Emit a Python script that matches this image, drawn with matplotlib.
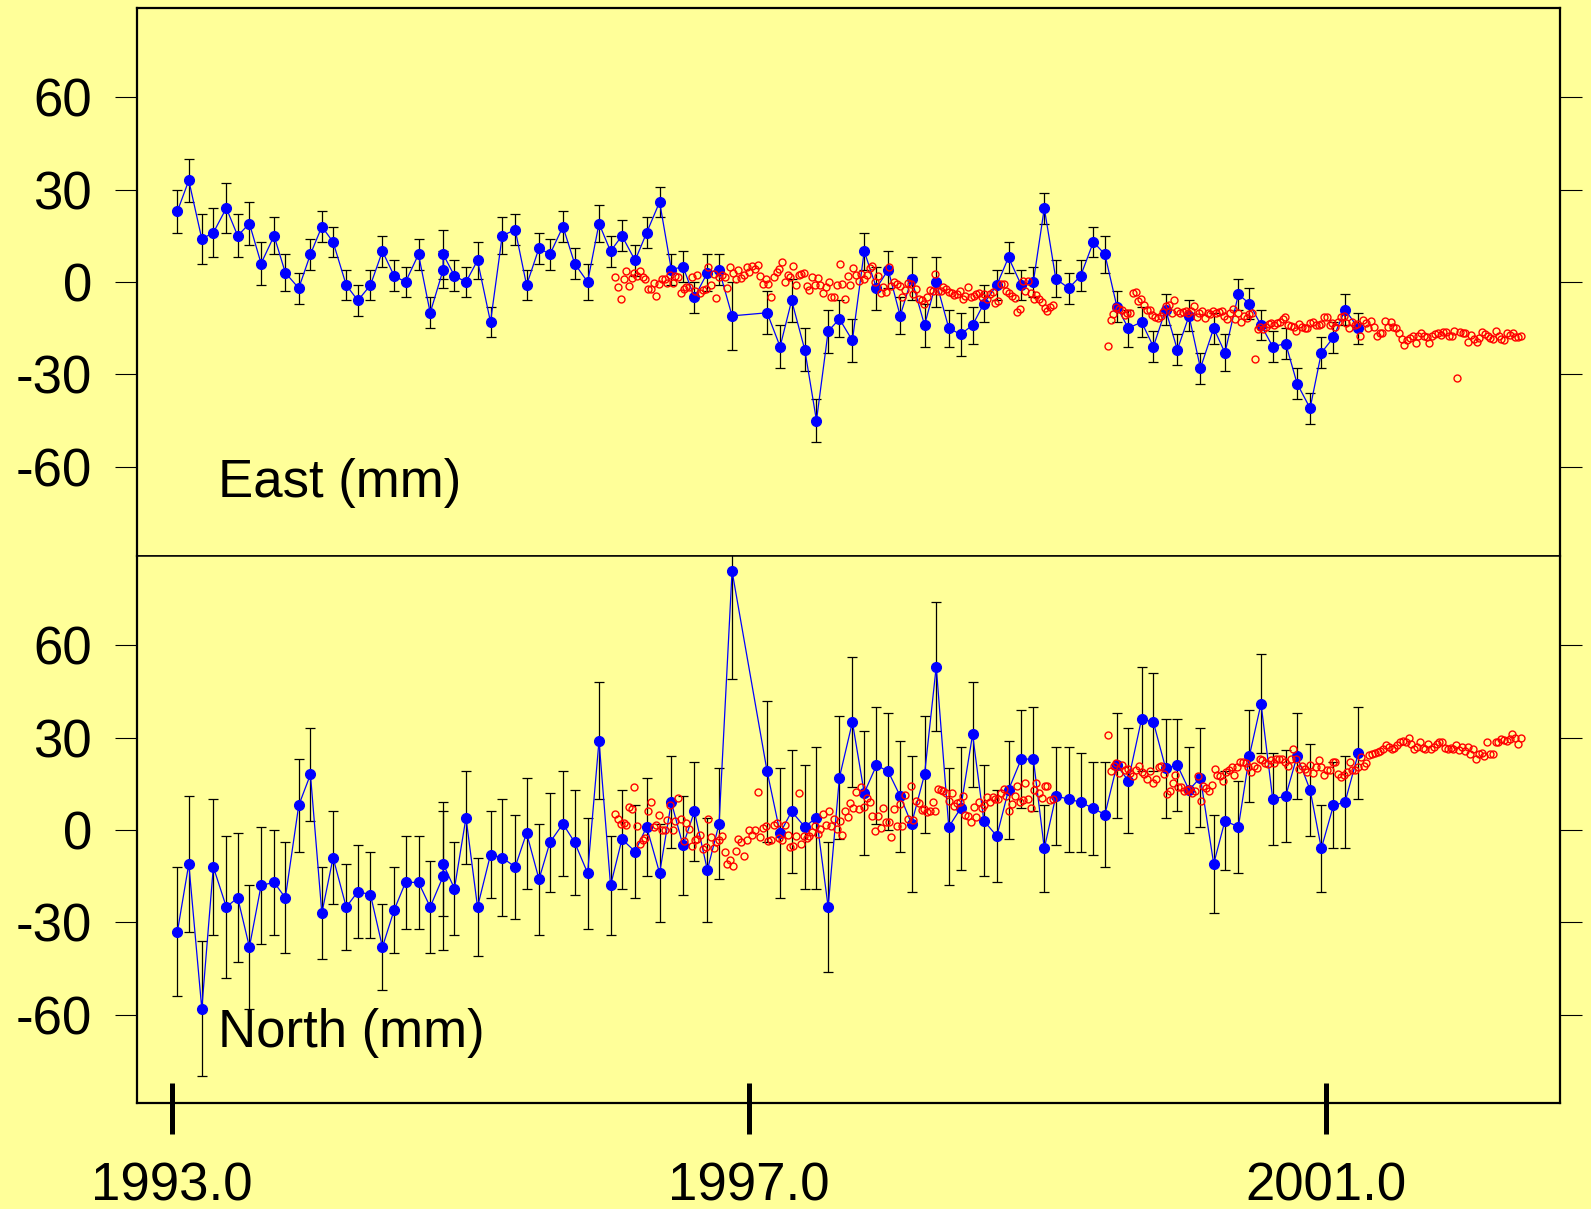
import numpy as np
import matplotlib
matplotlib.use("Agg")
import matplotlib.pyplot as plt

plt.rcParams['font.family'] = ['Liberation Sans', 'DejaVu Sans']

# ---------------- data ----------------
# monthly campaign epochs (decimal years)
epochs = [1993.040, 1993.119, 1993.209, 1993.289, 1993.379, 1993.458, 1993.539, 1993.620,
          1993.710, 1993.788, 1993.881, 1993.962, 1994.041, 1994.119, 1994.210, 1994.291,
          1994.378, 1994.461, 1994.542, 1994.621, 1994.711, 1994.792, 1994.882, 1994.882,
          1994.960, 1995.040, 1995.120, 1995.210, 1995.291, 1995.381, 1995.460, 1995.546,
          1995.622, 1995.712, 1995.793, 1995.883, 1995.962, 1996.042,
          1996.121, 1996.212, 1996.292, 1996.382, 1996.463, 1996.544, 1996.623, 1996.713,
          1996.794, 1996.884,
          1997.127, 1997.217, 1997.297, 1997.388, 1997.469, 1997.550, 1997.628, 1997.718,
          1997.800, 1997.885, 1997.966, 1998.049, 1998.128, 1998.218, 1998.299, 1998.386,
          1998.468, 1998.551, 1998.629, 1998.719, 1998.800, 1998.888, 1998.972, 1999.048,
          1999.128,
          1999.218, 1999.300, 1999.388, 1999.468, 1999.551, 1999.630, 1999.722, 1999.804,
          1999.889, 1999.970, 2000.051, 2000.130, 2000.222, 2000.300, 2000.393, 2000.469,
          2000.550, 2000.631, 2000.721, 2000.800, 2000.890, 2000.968, 2001.052, 2001.132,
          2001.225]

east = [23, 33, 14, 16, 24, 15, 19, 6, 15, 3, -2, 9, 18, 13, -1, -6, -1, 10, 2, 0,
        9, -10, 4, 9, 2, 0, 7, -13, 15, 17, -1, 11, 9, 18, 6, 0, 19, 10,
        15, 7, 16, 26, 4, 5, -5, 3, 4, -11,
        -10, -21, -6, -22, -45, -16, -12, -19, 10, -2, 4, -11, 1, -14, 0, -15, -17, -14,
        -7, -1, 8, -1, 0, 24, 1,
        -2, 2, 13, 9, -8, -15, -13, -21, -9, -22, -11, -28, -15, -23, -4, -7, -14, -21,
        -20, -33, -41, -23, -18, -9, -15]
east_err = [7, 7, 8, 8, 8, 7, 7, 7, 6, 6, 5, 5, 5, 5, 5, 5, 5, 5, 5, 5,
            5, 5, 6, 8, 5, 5, 6, 5, 6, 5, 5, 5, 5, 5, 5, 6, 6, 5,
            5, 5, 5, 5, 5, 5, 5, 6, 5, 11,
            7, 7, 7, 7, 7, 7, 6, 7, 6, 7, 6, 6, 7, 7, 8, 6, 7, 6, 6, 5, 5, 5, 5, 5, 6,
            5, 5, 5, 6, 5, 6, 5, 5, 5, 5, 5, 5, 5, 6, 5, 5, 5, 5, 5, 5, 5, 5, 5, 5, 5]

north = [-33, -11, -58, -12, -25, -22, -38, -18, -17, -22, 8, 18, -27, -9, -25, -20,
         -21, -38, -26, -17, -17, -25, -15, -11, -19, 4, -25, -8, -9, -12, -1, -16,
         -4, 2, -4, -14, 29, -18,
         -3, -7, 1, -14, 9, -5, 6, -13, 2, 84,
         19, -1, 6, 1, 4, -25, 17, 35, 12, 21, 19, 11, 2, 18, 53, 1, 7, 31, 3, -2,
         13, 23, 23, -6, 11,
         10, 9, 7, 5, 21, 16, 36, 35, 20, 21, 13, 17, -11, 3, 1, 24, 41, 10, 11, 24,
         13, -6, 8, 9, 25]
north_err = [21, 22, 22, 22, 23, 21, 20, 19, 17, 18, 15, 15, 15, 15, 14, 15, 14, 14,
             14, 15, 15, 15, 24, 17, 15, 15, 16, 14, 19, 17, 18, 18, 16, 17, 17, 18,
             19, 16,
             16, 15, 16, 16, 15, 16, 16, 17, 18, 35,
             23, 21, 20, 20, 23, 21, 20, 21, 20, 19, 19, 18, 22, 19, 21, 19, 20, 17,
             18, 15, 16, 16, 17, 14, 16,
             17, 16, 15, 17, 17, 17, 17, 16, 16, 15, 14, 16, 16, 16, 15, 15, 16, 15,
             15, 14, 15, 14, 14, 15, 15]

# continuous-station weekly solutions: two spans (start, end) in decimal years
red_span1 = (1996.075, 1999.107)
red_span2 = (1999.489, 2002.351)

east_red_1 = [1.7, -1.5, -5.6, 0.9, 3.6, -1.3, 1.2, 2.8, 1.9, 3.7, 1.5, 0.9, -2.4, -2.4,
              -0.4, -4.5, -0.8, 1.0, 0.9, -0.4, 2.3, -0.2, 1.9, 1.7, -3.5, -2.3, -1.7,
              -1.6, 1.7, -2.8, 2.4, -3.5, -2.5, -2.2, 5.0, -1.0, 2.6, -5.1, 1.5, 2.3,
              1.7, -1.9, 4.8, 3.0, 1.0, 3.9, 1.2, 2.3, 5.0, 3.4, 5.3, 4.2, 5.4, 1.9,
              -0.8, 0.9, -0.8, -4.9, 1.5, 3.4, 4.1, 6.5, -0.1, 2.3, 1.6, 5.2, -1.0, 2.3,
              2.6, 2.9, -1.2, -2.7, 1.6, -1.0, 1.4, -1.1, -3.6, -1.5, 0.1, -4.8, -4.8,
              -1.0, 5.7, -0.6, -5.5, 1.9, -1.0, 4.4, 2.3, 0.2, 2.6, 0.9, 2.4, 4.4, 5.2,
              -0.1, 1.9, -3.6, -1.5, -3.1, 5.0, -1.2, 0.0, -0.6, -1.3, -4.8, -2.7, -0.2,
              -0.5, -3.8, -2.2, -5.4, -5.8, -7.0, -4.8, -2.6, -2.8, 2.5, -2.9, -2.8,
              -1.5, -2.2, -3.2, -3.7, -4.3, -4.0, -2.8, -5.4, -4.5, -1.7, -4.8, -4.4,
              -3.9, -3.7, -4.9, -3.9, -5.4, -3.9, -3.2, -6.9, -6.3, -0.6, -0.8, -2.9,
              -3.5, -4.5, -5.3, -9.6, -8.7, 0.2, -2.8, 0.2, -3.7, -5.4, -4.3, -5.5,
              -6.5, -8.3, -9.5, -8.0, -7.6]
east_red_2 = [-20.8, -12.3, -10.4, -8.0, -8.9, -9.1, -10.7, -10.2, -10.2, -3.7, -3.1,
              -6.1, -5.6, -7.5, -9.1, -9.1, -10.7, -11.3, -11.8, -11.0, -9.6, -7.8,
              -7.5, -10.2, -6.0, -9.3, -10.2, -9.7, -9.3, -10.2, -9.3, -7.8, -11.3,
              -10.0, -9.3, -11.7, -10.0, -10.4, -9.3, -10.2, -9.7, -9.3, -11.0, -11.9,
              -10.2, -8.9, -12.1, -10.2, -13.1, -11.0, -11.8, -10.4, -10.2, -25.0,
              -15.3, -14.7, -15.4, -14.5, -13.6, -13.4, -14.0, -13.4, -12.9, -12.1,
              -11.3, -14.1, -14.3, -14.5, -16.0, -13.6, -14.5, -15.0, -15.0, -13.2,
              -12.9, -14.0, -14.1, -13.6, -11.3, -11.3, -14.0, -13.2, -14.7, -12.9,
              -11.3, -11.0, -13.2, -15.0, -12.9, -14.0, -13.6, -17.7, -12.3, -13.4,
              -15.0, -12.6, -14.5, -17.5, -16.7, -16.5, -12.6, -14.5, -12.9, -14.7,
              -15.0, -16.7, -18.6, -20.5, -18.8, -18.3, -17.7, -19.9, -17.5, -16.7,
              -17.5, -18.0, -19.9, -17.5, -16.9, -16.5, -17.2, -16.1, -16.2, -17.5,
              -17.7, -15.8, -31.1, -16.1, -16.7, -16.5, -19.6, -17.3, -18.6, -19.4,
              -18.3, -16.1, -16.9, -17.7, -18.3, -18.6, -15.8, -17.7, -18.6, -18.8,
              -16.5, -17.2, -16.7, -18.0, -18.0, -17.5]

north_red_1 = [5.1, 3.4, 1.8, 2.1, 1.7, 7.5, 6.7, 14.0, 1.2, -4.7, -3.4, -2.6, 6.3, 9.1,
               1.0, 1.5, 4.9, 0.0, 0.1, 3.3, 8.0, 0.1, 2.8, 10.4, 3.4, -3.5, 2.1, 0.4,
               -5.1, -3.1, -3.0, -1.5, -6.2, -5.5, 3.6, -2.3, -6.0, -3.9, -3.2, -2.1,
               -7.1, -11.1, -9.7, -11.7, -6.7, -3.0, -4.0, -8.3, -3.2, 0.1, -1.5, 0.1,
               12.2, -2.4, 0.7, 1.2, -3.7, -3.3, 1.5, 2.4, -2.6, -3.2, 1.5, -1.7, -5.5,
               -5.3, -1.8, 11.9, -4.7, -1.8, -2.6, -2.0, -0.6, 1.2, -1.3, 0.2, 5.3, 1.6,
               6.3, 1.2, 3.5, 0.4, 2.9, -1.5, 6.0, 4.2, 8.7, 7.0, 12.4, 6.9, 13.9, 7.6,
               10.4, 9.2, 4.6, -0.3, 4.6, 0.5, 7.2, 2.5, 2.5, -2.3, 6.9, 1.4, 8.4, 1.2,
               11.4, 3.4, 14.4, 3.3, 9.4, 8.6, 6.5, 6.8, 5.9, 6.0, 9.1, 6.3, 13.2, 13.0,
               12.6, 11.9, 9.5, 11.9, 7.9, 8.6, 9.1, 11.0, 4.7, 4.6, 2.6, 7.6, 4.2, 9.1,
               7.2, 8.0, 10.6, 9.0, 10.8, 10.2, 10.2, 11.9, 13.2, 11.0, 6.1, 8.4, 11.0,
               14.3, 9.1, 9.6, 15.1, 9.9, 7.0, 13.0, 15.3, 11.9, 10.5, 14.3, 14.2, 9.7,
               10.1]
north_red_2 = [30.8, 19.0, 20.7, 21.6, 18.5, 21.1, 19.6, 19.9, 18.5, 17.4, 19.4, 20.9,
               18.7, 18.3, 16.5, 19.0, 15.2, 16.5, 20.5, 20.7, 18.3, 11.7, 12.8, 15.2,
               17.8, 14.1, 13.9, 12.5, 13.0, 13.2, 11.9, 12.8, 17.4, 9.3, 14.3, 13.5,
               12.6, 14.5, 19.8, 17.8, 17.4, 15.8, 18.7, 19.6, 20.5, 17.9, 20.5, 22.2,
               22.2, 21.8, 20.5, 18.9, 20.9, 20.1, 22.9, 22.7, 21.8, 21.3, 22.7, 21.8,
               22.9, 23.1, 22.9, 22.0, 20.9, 22.9, 26.2, 22.9, 19.9, 20.9, 19.8, 18.9,
               21.2, 18.5, 20.5, 22.7, 20.5, 17.7, 19.4, 19.4, 22.0, 22.2, 18.3, 17.2,
               17.8, 18.7, 22.0, 19.6, 19.6, 20.5, 23.8, 20.9, 21.8, 24.4, 24.6, 24.9,
               25.3, 25.6, 26.4, 27.5, 27.0, 26.4, 26.7, 27.5, 28.4, 28.8, 28.4, 29.7,
               27.8, 26.4, 27.0, 28.4, 26.7, 26.4, 27.8, 26.2, 27.0, 27.8, 28.4, 28.4,
               26.7, 26.4, 26.7, 26.4, 27.5, 26.0, 27.0, 25.6, 27.0, 24.5, 26.2, 22.9,
               24.6, 24.9, 24.0, 28.4, 24.5, 24.5, 28.4, 28.6, 29.5, 29.2, 28.9, 29.5,
               31.0, 29.7, 27.9, 29.7]

yticks = [-60, -30, 0, 30, 60]
ytick_labels = ['-60', '-30', '0', '30', '60']
xticks = [1993.0, 1997.0, 2001.0]
xtick_labels = ['1993.0', '1997.0', '2001.0']
panel_labels = ['East (mm)', 'North (mm)']

# ---------------- figure ----------------
BG = '#FFFF99'
W, H = 1591, 1209
fig = plt.figure(figsize=(W / 100, H / 100), dpi=100, facecolor=BG)
L, R = 137 / W, 1560 / W
ax1 = fig.add_axes([L, 1 - 556 / H, R - L, (556 - 8) / H])
ax2 = fig.add_axes([L, 1 - 1103 / H, R - L, (1103 - 556) / H])

red_t1 = np.linspace(red_span1[0], red_span1[1], len(east_red_1))
red_t2 = np.linspace(red_span2[0], red_span2[1], len(east_red_2))
red_tn1 = np.linspace(red_span1[0], red_span1[1], len(north_red_1))
red_tn2 = np.linspace(red_span2[0], red_span2[1], len(north_red_2))

panels = [
    (ax1, east, east_err, [(red_t1, east_red_1), (red_t2, east_red_2)], (-89, 89), (0.057, 0.107)),
    (ax2, north, north_err, [(red_tn1, north_red_1), (red_tn2, north_red_2)], (-88.6, 88.9), (0.057, 0.102)),
]

for i, (ax, vals, errs, reds, ylim, lblpos) in enumerate(panels):
    ax.set_facecolor(BG)
    ax.errorbar(epochs, vals, yerr=errs, fmt='none', ecolor='black',
                elinewidth=0.9, capsize=3.8, capthick=0.9, zorder=2)
    ax.plot(epochs, vals, '-', color='#0000FF', lw=0.9, marker='o', ms=7.0,
            mfc='#0000FF', mec='#0000FF', zorder=3)
    for t, v in reds:
        ax.plot(t, v, 'o', ls='none', mfc='none', mec='#FF0000', ms=5.0, mew=1.0, zorder=4)
    ax.set_xlim(1992.760, 2002.622)
    ax.set_ylim(*ylim)
    ax.set_yticks(yticks)
    ax.set_yticklabels(ytick_labels)
    ax.tick_params(axis='y', which='major', direction='out', length=15.8, width=0.8,
                   labelsize=38, pad=16.5, left=True, right=True,
                   labelleft=True, labelright=False, colors='black')
    ax.text(lblpos[0], lblpos[1], panel_labels[i], transform=ax.transAxes,
            fontsize=38, ha='left', va='baseline', color='black')
    for s in ax.spines.values():
        s.set_linewidth(1.6)
        s.set_color('black')

# thin black divider between the two panels
ax1.spines['bottom'].set_linewidth(1.1)
ax2.spines['top'].set_linewidth(1.1)
ax1.tick_params(axis='x', which='both', bottom=False, top=False, labelbottom=False)

ax2.set_xticks(xticks)
ax2.set_xticklabels(xtick_labels)
ax2.set_xticks(xticks, minor=True)
ax2.xaxis.remove_overlapping_locs = False
ax2.tick_params(axis='x', which='major', direction='out', length=22.3, width=3.6,
                pad=20, labelsize=38, top=False)
ax2.tick_params(axis='x', which='minor', direction='in', length=14.4, width=3.6,
                top=False, labelbottom=False)

fig.savefig('out.png', dpi=100, facecolor=BG)
